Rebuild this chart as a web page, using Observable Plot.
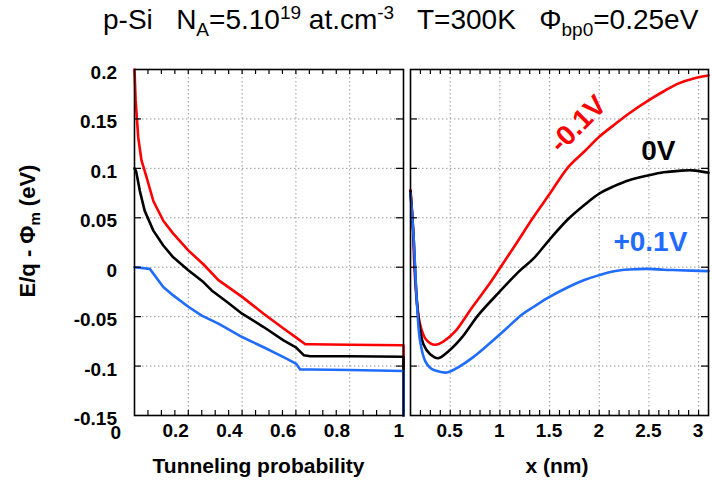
<!DOCTYPE html>
<html>
<head>
<meta charset="utf-8">
<script src="https://cdn.jsdelivr.net/npm/d3@7"></script>
<script src="https://cdn.jsdelivr.net/npm/@observablehq/plot@0.6"></script>
<style>
  html, body { margin: 0; padding: 0; background: #fff; }
  #wrap { position: relative; width: 712px; height: 481px; overflow: hidden;
          font-family: "Liberation Sans", Arial, Helvetica, sans-serif; }
  #title { position: absolute; left: 103px; top: 6px; font-size: 28px; line-height: 28px;
           white-space: pre; color: #000; }
  #title sub, #title sup { font-size: 19px; line-height: 0; }
  #ytitle { position: absolute; left: 28px; top: 231px; transform: translate(-50%, -50%) rotate(-90deg);
            font-size: 22px; font-weight: bold; white-space: pre; line-height: 22px; }
  #ytitle sub { font-size: 15px; line-height: 0; }
  .layer { position: absolute; top: 0; }
  .lbl { position: absolute; font-weight: bold; font-size: 19px; line-height: 19px; white-space: pre; color: #000; }
</style>
</head>
<body>
<div id="wrap">
  <div id="title">p-Si   N<sub>A</sub>=5.10<sup>19</sup> at.cm<sup>-3</sup>   T=300K   Φ<sub>bp0</sub>=0.25eV</div>
  <div id="ytitle">E/q - Φ<sub>m</sub> (eV)</div>
  <div id="leftGrid" class="layer" style="left:0px"></div>
  <div id="rightGrid" class="layer" style="left:405px"></div>
  <div id="leftCurves" class="layer" style="left:0px"></div>
  <div id="rightCurves" class="layer" style="left:405px"></div>
  <div id="leftFrame" class="layer" style="left:0px"></div>
  <div id="rightFrame" class="layer" style="left:405px"></div>
</div>
<script>
// ---------- data ----------
const biasLabels = ["-0.1V", "0V", "+0.1V"];
const biasColors = ["#ff0000", "#000000", "#1f6cff"];

// Left panel: energy vs tunneling probability  [probability, E/q - Φm (eV)]
const probMinus01 = [[0,0.2],[0.004,0.17],[0.007,0.158],[0.014,0.131],[0.026,0.108],[0.045,0.091],[0.07,0.067],
  [0.107,0.047],[0.144,0.034],[0.2,0.017],[0.256,0.003],[0.312,-0.013],[0.4,-0.030],[0.48,-0.047],[0.554,-0.062],
  [0.6,-0.071],[0.635,-0.078],[0.653,-0.078],[0.8,-0.0785],[1,-0.079],[1,-0.15]];
const probZero = [[0,0.1],[0.006,0.097],[0.02,0.077],[0.038,0.057],[0.07,0.037],[0.107,0.022],[0.144,0.010],
  [0.2,-0.003],[0.256,-0.015],[0.287,-0.0235],[0.343,-0.035],[0.4,-0.047],[0.48,-0.0605],[0.554,-0.074],
  [0.6,-0.081],[0.629,-0.089],[0.653,-0.09],[0.8,-0.09],[1,-0.0905],[1,-0.15]];
const probPlus01 = [[0,0],[0.057,-0.0017],[0.107,-0.020],[0.144,-0.0285],[0.2,-0.040],[0.25,-0.049],[0.312,-0.057],
  [0.4,-0.0706],[0.48,-0.081],[0.554,-0.091],[0.6,-0.0975],[0.616,-0.1035],[0.653,-0.1035],[0.8,-0.104],
  [1,-0.105],[1,-0.15]];

// Right panel: energy vs depth x (nm)  [x, E/q - Φm (eV)]
const depthMinus01 = [[0.1,0.078],[0.12,0.049],[0.14,-0.001],[0.164,-0.035],[0.197,-0.058],[0.248,-0.072],
  [0.3,-0.077],[0.349,-0.0785],[0.433,-0.075],[0.55,-0.065],[0.718,-0.041],[0.886,-0.018],[1.0,-0.001],
  [1.155,0.0225],[1.34,0.051],[1.5,0.074],[1.69,0.1015],[1.85,0.117],[2.0,0.132],[2.15,0.144],[2.3,0.1555],
  [2.5,0.169],[2.65,0.178],[2.8,0.186],[2.95,0.191],[3.1,0.194]];
const depthZero = [[0.1,0.077],[0.13,0.0326],[0.154,-0.018],[0.18,-0.051],[0.23,-0.078],[0.298,-0.088],
  [0.38,-0.092],[0.483,-0.085],[0.618,-0.071],[0.786,-0.048],[1.0,-0.0245],[1.19,-0.0044],[1.34,0.009],
  [1.5,0.028],[1.69,0.049],[1.85,0.063],[2.0,0.0745],[2.15,0.082],[2.3,0.088],[2.5,0.093],[2.65,0.096],
  [2.8,0.0975],[2.94,0.098],[3.1,0.0955]];
const depthPlus01 = [[0.1,0.075],[0.13,0.0326],[0.164,-0.035],[0.197,-0.075],[0.248,-0.095],[0.3,-0.102],
  [0.349,-0.1045],[0.466,-0.1065],[0.584,-0.101],[0.718,-0.092],[0.886,-0.078],[1.055,-0.063],[1.22,-0.048],
  [1.34,-0.040],[1.5,-0.030],[1.69,-0.020],[1.85,-0.013],[2.0,-0.008],[2.15,-0.004],[2.3,-0.0023],
  [2.5,-0.0017],[2.65,-0.0025],[2.8,-0.003],[3.1,-0.004]];

// in-plot bias labels (right panel)
const biasLabelX = [1.79, 2.6, 2.52];
const biasLabelY = [0.144, 0.117, 0.025];

// ticks
const yDomain = [-0.15, 0.2];
const yTicks = [0.2, 0.15, 0.1, 0.05, 0, -0.05, -0.1, -0.15];
const yGrid = [0.15, 0.1, 0.05, 0, -0.05, -0.1];
const probDomain = [0, 1];
const probTicks = [0.2, 0.4, 0.6, 0.8, 1];
const probGrid = [0.2, 0.4, 0.6, 0.8];
const probMinor = d3.range(1, 20).map(i => i * 0.05);
const depthDomain = [0.1, 3.1];
const depthTicks = [0.5, 1, 1.5, 2, 2.5, 3];
const depthMinor = d3.range(2, 31).map(i => i / 10);

// ---------- layout ----------
const H = 481, MT = 69, MB = 66;
const frameH = H - MT - MB;
const svgStyle = {background: "transparent", overflow: "visible", color: "#000"};
const gridStyle = {stroke: "#999", strokeOpacity: 1, strokeWidth: 1, strokeDasharray: "1.5,2.5"};
const tickStyle = {stroke: "#000", strokeOpacity: 1, strokeWidth: 1.2};
const lineOpts = {x: d => d[0], y: d => d[1], strokeWidth: 2.6};

function layer(id, width, ml, mr, xDomain, marks) {
  const p = Plot.plot({
    width, height: H, marginLeft: ml, marginRight: mr, marginTop: MT, marginBottom: MB,
    style: svgStyle,
    x: {domain: xDomain, axis: null},
    y: {domain: yDomain, axis: null},
    marks
  });
  document.getElementById(id).appendChild(p);
  return p;
}

function panel(prefix, width, ml, mr, xDomain, xGrid, xMinor, curves, curve) {
  const frameW = width - ml - mr;
  layer(prefix + "Grid", width, ml, mr, xDomain, [
    Plot.gridX(xGrid, gridStyle),
    Plot.gridY(yGrid, gridStyle)
  ]);
  const p = layer(prefix + "Curves", width, ml, mr, xDomain,
    curves.map((c, i) => Plot.line(c, {...lineOpts, stroke: biasColors[i], curve})));
  layer(prefix + "Frame", width, ml, mr, xDomain, [
    Plot.ruleX(xMinor, {x: d => d, insetTop: frameH - 5, ...tickStyle}),
    Plot.ruleX(xMinor, {x: d => d, insetBottom: frameH - 5, ...tickStyle}),
    Plot.ruleY(yGrid, {y: d => d, insetRight: frameW - 7, ...tickStyle}),
    Plot.ruleY(yGrid, {y: d => d, insetLeft: frameW - 7, ...tickStyle}),
    Plot.frame({stroke: "#000", strokeWidth: 1.6})
  ]);
  return p;
}

const wrap = document.getElementById("wrap");
function label(text, left, top, transform, extra = {}) {
  const el = document.createElement("div");
  el.className = "lbl";
  el.textContent = text;
  el.style.left = left + "px";
  el.style.top = top + "px";
  el.style.transform = transform;
  Object.assign(el.style, extra);
  wrap.appendChild(el);
}

// Left panel (frame x 134..403)
const W1 = 410, L1 = 134, R1 = 403;
const leftPlot = panel("left", W1, L1, W1 - R1, probDomain, probGrid, probMinor,
  [probMinus01, probZero, probPlus01], "linear");
const lx = leftPlot.scale("x"), ly = leftPlot.scale("y");
const bottomY = ly.apply(yDomain[0]);
for (const v of yTicks) label(String(v), L1 - 17, ly.apply(v) + 3, "translate(-100%, -50%)");
for (const v of probTicks) label(String(v), lx.apply(v) + 1, bottomY + 6, "translate(-100%, 0)");
label(String(probDomain[0]), lx.apply(probDomain[0]) - 13, bottomY + 8, "translate(-100%, 0)");
label("Tunneling probability", (L1 + R1) / 2 - 10, bottomY + 50, "translate(-50%, -50%)", {fontSize: "21px"});

// Right panel (frame x 410..708)
const OFF2 = 405, W2 = 307, L2 = 5, R2 = 303;
const rightPlot = panel("right", W2, L2, W2 - R2, depthDomain, depthTicks, depthMinor,
  [depthMinus01, depthZero, depthPlus01], "catmull-rom");
const rx = rightPlot.scale("x"), ry = rightPlot.scale("y");
for (const v of depthTicks) label(String(v), OFF2 + rx.apply(v), bottomY + 6, "translate(-50%, 0)");
label("x (nm)", OFF2 + (L2 + R2) / 2 - 2, bottomY + 50, "translate(-50%, -50%)", {fontSize: "21px"});
const rot = ["rotate(-45deg)", "", ""];
biasLabels.forEach((t, i) => label(t, OFF2 + rx.apply(biasLabelX[i]), ry.apply(biasLabelY[i]),
  "translate(-50%, -50%) " + rot[i], {fontSize: "28px", lineHeight: "28px", color: biasColors[i]}));
</script>
</body>
</html>
